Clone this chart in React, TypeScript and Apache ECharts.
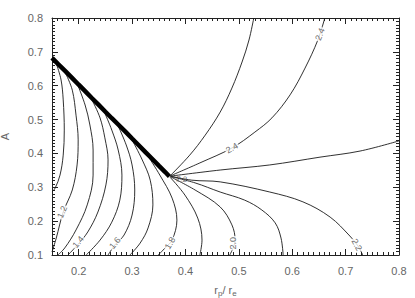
import React, { useEffect, useRef } from "react";
import * as echarts from "echarts";

// Axis ticks
const xTickValues = [0.2, 0.3, 0.4, 0.5, 0.6, 0.7, 0.8];
const yTickValues = [0.1, 0.2, 0.3, 0.4, 0.5, 0.6, 0.7, 0.8];

// Thick boundary
const staircase = [
  [0.150, 0.682], [0.162, 0.663], [0.175, 0.643], [0.187, 0.624], [0.200, 0.603],
  [0.212, 0.584], [0.225, 0.563], [0.237, 0.544], [0.250, 0.523], [0.262, 0.504],
  [0.275, 0.484], [0.287, 0.465], [0.300, 0.444], [0.312, 0.425], [0.325, 0.404],
  [0.337, 0.385], [0.350, 0.364], [0.362, 0.345], [0.370, 0.332],
];

// Contour lines (x = rp/re, y = A)
const c11 = [[0.159, 0.661], [0.167, 0.617], [0.171, 0.558], [0.173, 0.469], [0.171, 0.395], [0.165, 0.336], [0.156, 0.298], [0.150, 0.286]];
const c12 = [[0.176, 0.635], [0.188, 0.587], [0.195, 0.513], [0.199, 0.440], [0.197, 0.366], [0.188, 0.292], [0.171, 0.227], [0.158, 0.150], [0.150, 0.109]];
const c13 = [[0.199, 0.599], [0.212, 0.543], [0.221, 0.484], [0.227, 0.410], [0.227, 0.336], [0.216, 0.248], [0.195, 0.174], [0.174, 0.121], [0.161, 0.100]];
const c14 = [[0.225, 0.558], [0.240, 0.505], [0.249, 0.446], [0.255, 0.381], [0.251, 0.307], [0.236, 0.227], [0.217, 0.168], [0.199, 0.132], [0.180, 0.100]];
const c15 = [[0.249, 0.519], [0.262, 0.469], [0.274, 0.410], [0.281, 0.336], [0.277, 0.262], [0.262, 0.197], [0.240, 0.144], [0.214, 0.100]];
const c16 = [[0.274, 0.481], [0.289, 0.425], [0.300, 0.366], [0.305, 0.292], [0.300, 0.218], [0.285, 0.159], [0.268, 0.130], [0.255, 0.100]];
const c17 = [[0.300, 0.440], [0.319, 0.381], [0.334, 0.321], [0.339, 0.248], [0.330, 0.180], [0.315, 0.135], [0.296, 0.100]];
const c18 = [[0.330, 0.392], [0.352, 0.336], [0.375, 0.268], [0.384, 0.203], [0.375, 0.144], [0.362, 0.121], [0.349, 0.100]];
const c19 = [[0.371, 0.330], [0.399, 0.277], [0.423, 0.209], [0.431, 0.144], [0.427, 0.100]];
const c20 = [[0.372, 0.331], [0.418, 0.292], [0.465, 0.242], [0.487, 0.189], [0.493, 0.144], [0.483, 0.100]];
const c21 = [[0.372, 0.332], [0.418, 0.313], [0.465, 0.286], [0.511, 0.262], [0.543, 0.233], [0.568, 0.195], [0.579, 0.150], [0.583, 0.100]];
const c22 = [[0.372, 0.333], [0.412, 0.321], [0.465, 0.316], [0.558, 0.286], [0.620, 0.257], [0.671, 0.212], [0.708, 0.156], [0.723, 0.127], [0.732, 0.100]];
const c23 = [[0.372, 0.333], [0.465, 0.351], [0.558, 0.366], [0.652, 0.389], [0.727, 0.407], [0.800, 0.437]];
const c24 = [[0.372, 0.334], [0.427, 0.372], [0.487, 0.416], [0.530, 0.463], [0.562, 0.505], [0.596, 0.573], [0.624, 0.652], [0.648, 0.735], [0.661, 0.800]];
const c25 = [[0.372, 0.335], [0.408, 0.395], [0.437, 0.454], [0.465, 0.522], [0.487, 0.593], [0.506, 0.670], [0.519, 0.735], [0.528, 0.800]];

const contourLines = [c11, c12, c13, c14, c15, c16, c17, c18, c19, c20, c21, c22, c23, c24, c25];

// Contour labels
const labelTexts = ["1.2", "1.4", "1.6", "1.8", "2.0", "2.2", "2.2", "2.4", "2.4"];
const labelX = [0.169, 0.199, 0.268, 0.371, 0.489, 0.393, 0.721, 0.487, 0.652];
const labelY = [0.227, 0.138, 0.135, 0.135, 0.135, 0.324, 0.130, 0.416, 0.752];
const labelAngle = [68, 50, 50, 60, 90, -5, -62, 30, 68];
const labelBg = [true, true, true, true, true, false, true, true, true];

const X_MIN = 0.15, X_MAX = 0.8, Y_MIN = 0.1, Y_MAX = 0.8;

const AXIS = "#222";
const TXT = "#666";
const FONT = "Liberation Sans, Arial, sans-serif";

const mkTick = () => ({ show: true, inside: true, length: 6, lineStyle: { color: AXIS, width: 1 } });
const mkMinor = () => ({ show: true, splitNumber: 10, length: 3, lineStyle: { color: AXIS, width: 1 } });

export default function App() {
  const ref = useRef<HTMLDivElement>(null);
  useEffect(() => {
    if (!ref.current) return;
    const chart = echarts.init(ref.current, null, { renderer: "svg" });
    const xAxes = [
      {
        type: "value", min: X_MIN, max: X_MAX, splitNumber: 7, position: "bottom", splitLine: { show: false },
        axisLine: { show: true, lineStyle: { color: AXIS, width: 1 } },
        axisTick: mkTick(), minorTick: mkMinor(),
        axisLabel: {
          show: true, margin: 10, color: TXT, fontSize: 11, fontFamily: FONT,
          formatter: (v: number) => (xTickValues.some((t) => Math.abs(t - v) < 1e-6) ? v.toFixed(1) : ""),
        },
        name: "{n|r}{s|p}{n|/ r}{s|e}", nameLocation: "middle", nameGap: 28,
        nameTextStyle: { color: TXT, rich: { n: { fontSize: 11, color: TXT, fontFamily: FONT }, s: { fontSize: 8, color: TXT, fontFamily: FONT, verticalAlign: "bottom", padding: [6, 0, 0, 0] } } },
      },
      {
        type: "value", min: X_MIN, max: X_MAX, splitNumber: 7, position: "top", splitLine: { show: false },
        axisLine: { show: true, lineStyle: { color: AXIS, width: 1 } },
        axisTick: mkTick(), minorTick: mkMinor(),
        axisLabel: { show: false },
      },
    ];
    const yAxes = [
      {
        type: "value", min: Y_MIN, max: Y_MAX, interval: 0.1, position: "left", splitLine: { show: false },
        axisLine: { show: true, lineStyle: { color: AXIS } },
        axisTick: mkTick(), minorTick: mkMinor(),
        axisLabel: {
          color: TXT, fontSize: 11, fontFamily: FONT, margin: 9,
          formatter: (v: number) => (yTickValues.some((t) => Math.abs(t - v) < 1e-6) ? v.toFixed(1) : ""),
        },
        name: "A", nameLocation: "middle", nameGap: 42, nameRotate: 90,
        nameTextStyle: { color: TXT, fontSize: 11, fontFamily: FONT },
      },
      {
        type: "value", min: Y_MIN, max: Y_MAX, interval: 0.1, position: "right", splitLine: { show: false },
        axisLine: { show: true, lineStyle: { color: AXIS } },
        axisTick: mkTick(), minorTick: mkMinor(),
        axisLabel: { show: false },
      },
    ];
    const series: any[] = contourLines.map((pts) => ({
      type: "line", data: pts, showSymbol: false, symbol: "none", smooth: 0.35,
      lineStyle: { color: "#1a1a1a", width: 0.9 }, z: 2,
    }));
    series.push({
      type: "line", data: staircase, showSymbol: false, symbol: "none",
      lineStyle: { color: "#000", width: 4.5, cap: "butt" }, z: 3,
    });
    series.push({
      type: "scatter", z: 5, symbolSize: 1, itemStyle: { color: "rgba(0,0,0,0)" },
      data: labelTexts.map((t, i) => ({
        value: [labelX[i], labelY[i]],
        label: {
          show: true, position: "inside", formatter: t, rotate: labelAngle[i],
          fontSize: labelBg[i] ? 9 : 8, color: "#444", fontFamily: FONT,
          backgroundColor: labelBg[i] ? "#fff" : "transparent", padding: [0, 1],
        },
      })),
    });
    chart.setOption({
      animation: false,
      grid: { left: 52, right: 16, top: 18, bottom: 43, outerBoundsMode: "none" },
      xAxis: xAxes,
      yAxis: yAxes,
      series,
    });
    return () => chart.dispose();
  }, []);
  return <div ref={ref} style={{ width: 415, height: 298, position: "absolute", left: 0, top: 0 }} />;
}
